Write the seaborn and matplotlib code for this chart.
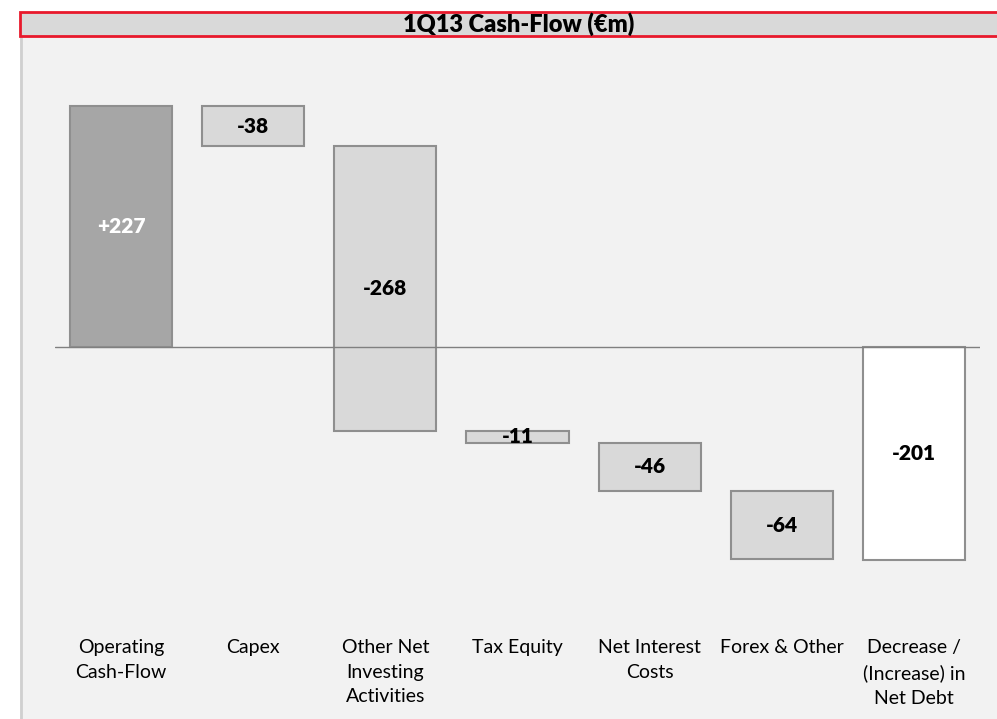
import pandas as pd
import seaborn as sns
import matplotlib.pyplot as plt
from matplotlib.patches import Rectangle

categories = ["Operating\nCash-Flow", "Capex", "Other Net\nInvesting\nActivities",
              "Tax Equity", "Net Interest\nCosts", "Forex & Other",
              "Decrease /\n(Increase) in\nNet Debt"]
values = [227, -38, -268, -11, -46, -64, -201]
is_total = [False, False, False, False, False, False, True]
bar_colors = ["#a6a6a6", "#d9d9d9", "#d9d9d9", "#d9d9d9", "#d9d9d9", "#d9d9d9", "#ffffff"]
label_colors = ["white", "black", "black", "black", "black", "black", "black"]
title = "1Q13 Cash-Flow (€m)"

# waterfall starting points
starts = []
running = 0
for v, tot in zip(values, is_total):
    if tot:
        starts.append(0)
    else:
        starts.append(running)
        running += v

df = pd.DataFrame({"category": categories, "value": values, "start": starts})

sns.set_style("white")
plt.rcParams["font.family"] = ["Lato", "DejaVu Sans"]

W, H = 997, 719
fig = plt.figure(figsize=(W / 100, H / 100), dpi=100)
fig.patch.set_facecolor("white")

# grey panel and title band
fig.patches.append(Rectangle((20 / W, 0), 1 - 20 / W, 1 - 36 / H, transform=fig.transFigure,
                             facecolor="#f2f2f2", edgecolor="none", zorder=-2))
fig.lines.append(plt.Line2D([21 / W, 21 / W], [0, 1 - 36 / H], transform=fig.transFigure,
                            color="#d0d0d0", lw=2, zorder=-1))
fig.patches.append(Rectangle((20 / W, 1 - 36 / H), 1.0, 24 / H, transform=fig.transFigure,
                             facecolor="#d9d9d9", edgecolor="#e8192c", lw=2, zorder=-1))
fig.text(519 / W, 1 - 24 / H, title, ha="center", va="center", fontsize=17,
         fontweight="heavy", color="black")

ax = fig.add_axes([55 / W, 1 - 600 / H, 925 / W, 540 / H])
ax.set_zorder(5)
ax.patch.set_alpha(0)

sns.barplot(data=df, x="category", y="value", hue="category", palette=bar_colors,
            legend=False, width=0.773, edgecolor="#8f8f8f", linewidth=1.5,
            saturation=1, ax=ax, zorder=2)

for p, s in zip(ax.patches, starts):
    p.set_y(s)

for i, (v, s) in enumerate(zip(values, starts)):
    ax.text(i, s + v / 2, f"{v:+d}", ha="center", va="center", fontsize=15,
            fontweight="heavy", color=label_colors[i], zorder=4)

ax.axhline(0, color="#808080", lw=1, zorder=3)

ax.set_xlim(-0.5, 6.5)
ax.set_ylim(-238.3, 270.3)
ax.set_xlabel("")
ax.set_ylabel("")
ax.set_yticks([])
ax.tick_params(axis="x", length=0, pad=28, labelsize=14, labelcolor="black")
for lbl in ax.get_xticklabels():
    lbl.set_linespacing(1.55)
    lbl.set_va("top")
sns.despine(ax=ax, left=True, bottom=True)

fig.savefig("out.png", dpi=100)
